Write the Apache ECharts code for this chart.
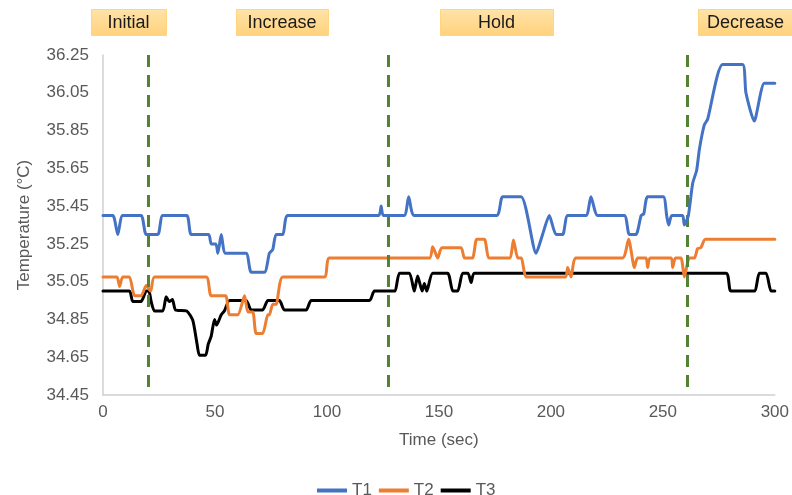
<!DOCTYPE html>
<html>
<head>
<meta charset="utf-8">
<script src="https://cdn.jsdelivr.net/npm/echarts@6/dist/echarts.min.js"></script>
<style>
html,body{margin:0;padding:0;background:#fff;}
#chart{width:792px;height:495px;}
</style>
</head>
<body>
<div id="chart"></div>
<script>
// ---- data ----
const t1Time = [0,4.4,6.6,8.8,17,19.3,24.5,26.7,37.4,39.4,47.2,48.3,50.4,51.3,52.8,54.7,63.9,66.2,72.1,74.3,75.8,77.3,80.3,82.5,123.1,124.2,125.2,134.5,136.5,139,175.8,178.5,186.7,193.4,196.3,199.3,202.3,205.3,207.5,215.7,217.9,220.9,232.8,235,238,240.3,241.5,243.2,250.2,251.7,252.6,254,258.8,259.6,261.4,263.3,265.1,266.3,268.5,270,276.7,285.6,287.1,290.8,295.3,300];
const t1Temp = [35.40,35.40,35.30,35.40,35.40,35.30,35.30,35.40,35.40,35.30,35.30,35.25,35.25,35.20,35.30,35.20,35.20,35.10,35.10,35.20,35.22,35.30,35.30,35.40,35.40,35.45,35.40,35.40,35.50,35.40,35.40,35.50,35.50,35.20,35.30,35.40,35.30,35.30,35.40,35.40,35.50,35.40,35.40,35.30,35.30,35.40,35.41,35.50,35.50,35.40,35.35,35.40,35.40,35.35,35.40,35.57,35.64,35.75,35.88,35.91,36.20,36.20,36.05,35.90,36.10,36.10];

const t2Time = [0,6.2,7.4,8.8,11.8,14.1,17,19.3,21.3,23,46.1,48.3,54.7,56.5,60.2,63.2,64.7,66.9,68.4,71.3,73.6,74.3,75.8,77.3,80.3,98.9,101.1,145.8,147.2,149.5,151.3,159.9,161.4,165,166.9,170.3,172.5,181.5,183.3,185.2,186.8,189.2,206.5,207.5,209,211.2,232,234.7,237.3,238.7,242.5,243.2,244.3,253.7,254.4,255.6,258.1,259.6,261.8,264.1,265.5,267,269,300];
const t2Temp = [35.075,35.075,35.025,35.075,35.075,34.975,34.975,35.03,35.00,35.075,35.075,34.975,34.975,34.875,34.875,34.975,34.89,34.89,34.775,34.775,34.875,34.875,34.93,34.93,35.075,35.075,35.175,35.175,35.235,35.175,35.23,35.23,35.175,35.175,35.275,35.275,35.175,35.175,35.27,35.175,35.175,35.075,35.075,35.125,35.075,35.175,35.175,35.275,35.125,35.175,35.175,35.125,35.175,35.175,35.125,35.175,35.175,35.075,35.175,35.175,35.225,35.23,35.275,35.275];

const t3Time = [0,11.8,13.3,17,19.3,20.5,21.5,23,26.7,28.2,29.6,31,32.4,37.4,40.1,42,43.1,45.8,47,48.3,49.8,50.7,52.8,54.2,56.5,63.9,66.2,71.3,73.6,78.8,81,90.7,93,119,121.2,130.1,132.4,136.8,139,140.5,142.5,143.5,144.6,147.2,153.9,156.2,158.4,160.6,163,164.4,165.8,278.2,280.4,290.8,293.1,296.1,298.3,300];
const t3Temp = [35.00,35.00,34.945,34.945,35.00,35.00,34.945,34.895,34.895,34.97,34.945,34.955,34.90,34.895,34.845,34.72,34.66,34.66,34.72,34.76,34.85,34.82,34.875,34.895,34.95,34.95,34.90,34.90,34.95,34.95,34.90,34.90,34.95,34.95,35.00,35.00,35.095,35.095,35.00,35.08,35.00,35.04,35.00,35.095,35.095,35.00,35.00,35.095,35.095,35.045,35.095,35.095,35.00,35.00,35.095,35.095,35.00,35.00];

const seriesNames = ['T1','T2','T3'];
const yTicks = [34.45,34.65,34.85,35.05,35.25,35.45,35.65,35.85,36.05,36.25];
const xTicks = [0,50,100,150,200,250,300];
const phaseBounds = [20,127.5,261];
const phaseNames = ['Initial','Increase','Hold','Decrease'];

// ---- styling ----
const FONT = "'Liberation Sans', Arial, sans-serif";
const GRAY = '#595959';
const colors = ['#4472C4','#ED7D31','#000000'];

function pairs(ts, vs){ return ts.map((t,i)=>[t, vs[i]]); }
const allData = [pairs(t1Time,t1Temp), pairs(t2Time,t2Temp), pairs(t3Time,t3Temp)];

// phase label boxes (layout only)
const boxes = [
  {x:91,  w:75},
  {x:236, w:92},
  {x:440, w:113},
  {x:698, w:94, tx:745.5}
];
const graphics = [];
boxes.forEach((b,i)=>{
  graphics.push({
    type:'rect', shape:{x:b.x+0.5, y:9.5, width:b.w, height:26},
    style:{
      fill:{type:'linear',x:0,y:0,x2:0,y2:1,colorStops:[{offset:0,color:'#FFE3A8'},{offset:1,color:'#FFD27C'}]},
      stroke:'#FFD57F', lineWidth:1
    },
    silent:true
  });
  graphics.push({
    type:'text',
    style:{
      x: b.tx !== undefined ? b.tx : b.x + b.w/2, y:23,
      text: phaseNames[i], fill:'#1a1a1a', font:'18px ' + FONT,
      textAlign:'center', textVerticalAlign:'middle'
    },
    silent:true
  });
});

const yMin = yTicks[0], yMax = yTicks[yTicks.length-1];

const chart = echarts.init(document.getElementById('chart'), null, {renderer:'canvas'});
chart.setOption({
  animation:false,
  backgroundColor:'#ffffff',
  grid:{left:103, right:17, top:55, bottom:100, containLabel:false},
  legend:{
    data:seriesNames.map(n=>({name:n, icon:'rect'})), top:477, left:312,
    itemWidth:30, itemHeight:4, itemGap:7,
    textStyle:{color:GRAY, fontSize:17, fontFamily:FONT}
  },
  xAxis:{
    type:'value', min:0, max:300, interval:50,
    name:'Time (sec)', nameLocation:'middle', nameGap:37,
    nameTextStyle:{color:GRAY, fontSize:17, fontFamily:FONT},
    axisLine:{show:true, lineStyle:{color:'#D0D0D0', width:1.5}},
    axisTick:{show:false},
    splitLine:{show:false},
    axisLabel:{color:GRAY, fontSize:17, fontFamily:FONT, margin:9, customValues:xTicks}
  },
  yAxis:{
    type:'value', min:yMin, max:yMax,
    name:'Temperature (°C)', nameLocation:'middle', nameGap:70,
    nameTextStyle:{color:GRAY, fontSize:17, fontFamily:FONT},
    axisLine:{show:true, lineStyle:{color:'#D0D0D0', width:1.5}},
    axisTick:{show:false},
    splitLine:{show:false},
    axisLabel:{color:GRAY, fontSize:17, fontFamily:FONT, margin:14,
      customValues:yTicks, formatter:v=>Number(v).toFixed(2)}
  },
  graphic:graphics,
  series: seriesNames.map((n,i)=>({
    name:n, type:'line', data:allData[i], symbol:'none', showSymbol:false,
    smooth:0.2,
    z: 5 - i,
    lineStyle:{color:colors[i], width:3, cap:'round', join:'round'},
    itemStyle:{color:colors[i]},
    markLine: i===0 ? {
      silent:true, symbol:'none', animation:false,
      label:{show:false},
      lineStyle:{color:'#548235', width:3, type:[12,8]},
      data: phaseBounds.map(b=>[{coord:[b, yMax]},{coord:[b, yMin]}])
    } : undefined
  }))
});
</script>
</body>
</html>
